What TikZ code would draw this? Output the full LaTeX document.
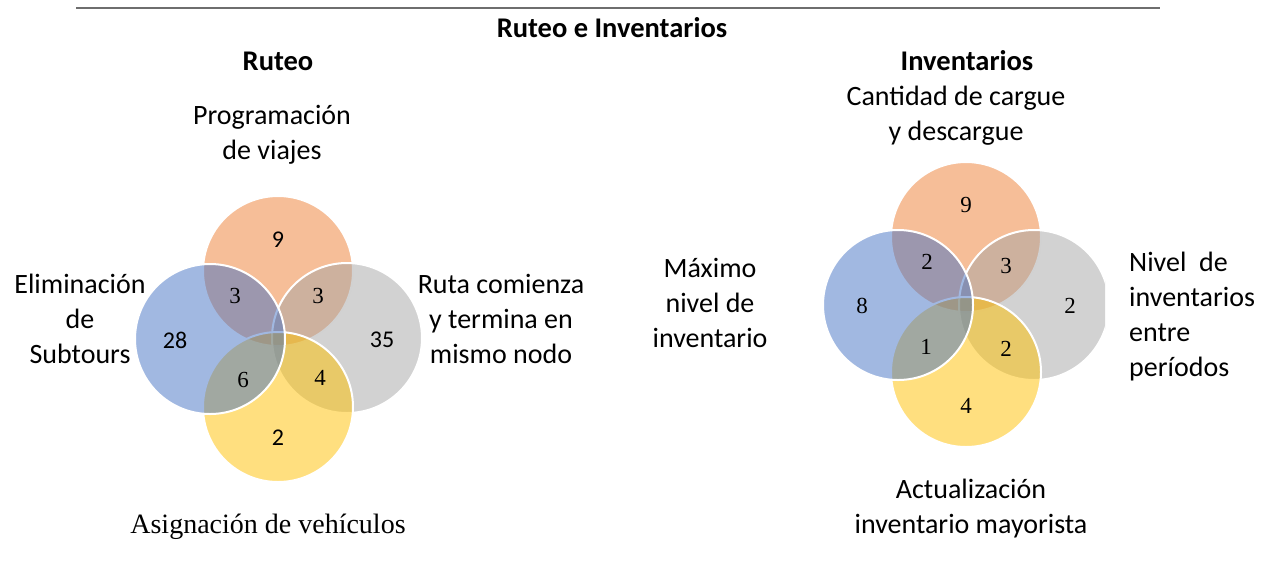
\documentclass[tikz,border=0pt]{standalone}
\usepackage{fontspec}
\setmainfont{Carlito}
\newfontfamily\tms{Liberation Serif}
\definecolor{cor}{HTML}{ED7D31}
\definecolor{cbl}{HTML}{4472C4}
\definecolor{cgr}{HTML}{A5A5A5}
\definecolor{cye}{HTML}{FFC000}
\definecolor{rule}{HTML}{6E6E6E}
\tikzset{
  venn/.style={circle, minimum size=150pt, inner sep=0pt, fill opacity=0.5, draw=white, draw opacity=1, line width=2pt},
  lbl/.style={align=center, font=\fontsize{28}{35}\selectfont, inner sep=0pt},
  ttl/.style={font=\fontsize{28.5}{32}\selectfont\bfseries, inner sep=0pt},
  numS/.style={font=\fontsize{24}{28}\selectfont, inner sep=0pt},
  numT/.style={font=\fontsize{23}{26}\selectfont\tms, inner sep=0pt},
}
\begin{document}
\begin{tikzpicture}[x=1pt,y=-1pt]
\useasboundingbox (0,0) rectangle (1268,571);
% top rule
\coordinate (r1) at (76,8);
\coordinate (r2) at (1160,8);
\draw[rule, line width=2.2pt] (r1) -- (r2);
\node[ttl] (title) at (612,28) {Ruteo e Inventarios};
\node[ttl] (hR) at (278,61) {Ruteo};
\node[ttl] (hI) at (967,61) {Inventarios};

% Left venn
\node[venn, fill=cor] (lo) at (278,271) {};
\node[venn, fill=cgr] (lg) at (347,338) {};
\node[venn, fill=cye] (ly) at (278,407) {};
\node[venn, fill=cbl] (lb) at (210,339) {};

\node[numS] (n1) at (278,240) {9};
\node[numT] (n2) at (235,296) {3};
\node[numT] (n3) at (318,296) {3};
\node[numS] (n4) at (175,340) {28};
\node[numS] (n5) at (382,340) {35};
\node[numT] (n6) at (243,380) {6};
\node[numT] (n7) at (320,378) {4};
\node[numS] (n8) at (278,438) {2};

\node[lbl] (pv) at (272,135) {Programación\\de viajes};
\node[lbl] (es) at (80,319) {Eliminación\\de\\Subtours};
\node[lbl] (rc) at (501,319) {Ruta comienza\\y termina en\\mismo nodo};
\node[lbl, font=\fontsize{28}{35}\selectfont\tms] (av) at (268,527) {Asignación de vehículos};

% Right venn
\node[venn, fill=cor] (ro) at (966,237) {};
\begin{scope}
\clip (0,0) rectangle (1105,571);
\node[venn, fill=cgr] (rg) at (1034,305) {};
\end{scope}
\node[venn, fill=cye] (ry) at (966,372) {};
\node[venn, fill=cbl] (rb) at (898,305) {};

\node[numT] (m1) at (966,205) {9};
\node[numT] (m2) at (927,262) {2};
\node[numT] (m3) at (1006,266) {3};
\node[numT] (m4) at (862,306) {8};
\node[numT] (m5) at (1070,306) {2};
\node[numT] (m6) at (926,347) {1};
\node[numT] (m7) at (1006,349) {2};
\node[numT] (m8) at (966,406) {4};

\node[lbl] (cc) at (956,116) {Cantidad de cargue\\y descargue};
\node[lbl] (mx) at (710,303) {Máximo\\nivel de\\inventario};
\node[lbl, align=left, anchor=west] (ni) at (1129,317) {Nivel\ \ de\\inventarios\\entre\\períodos};
\node[lbl] (ai) at (971,509) {Actualización\\inventario mayorista};
\end{tikzpicture}
\end{document}
